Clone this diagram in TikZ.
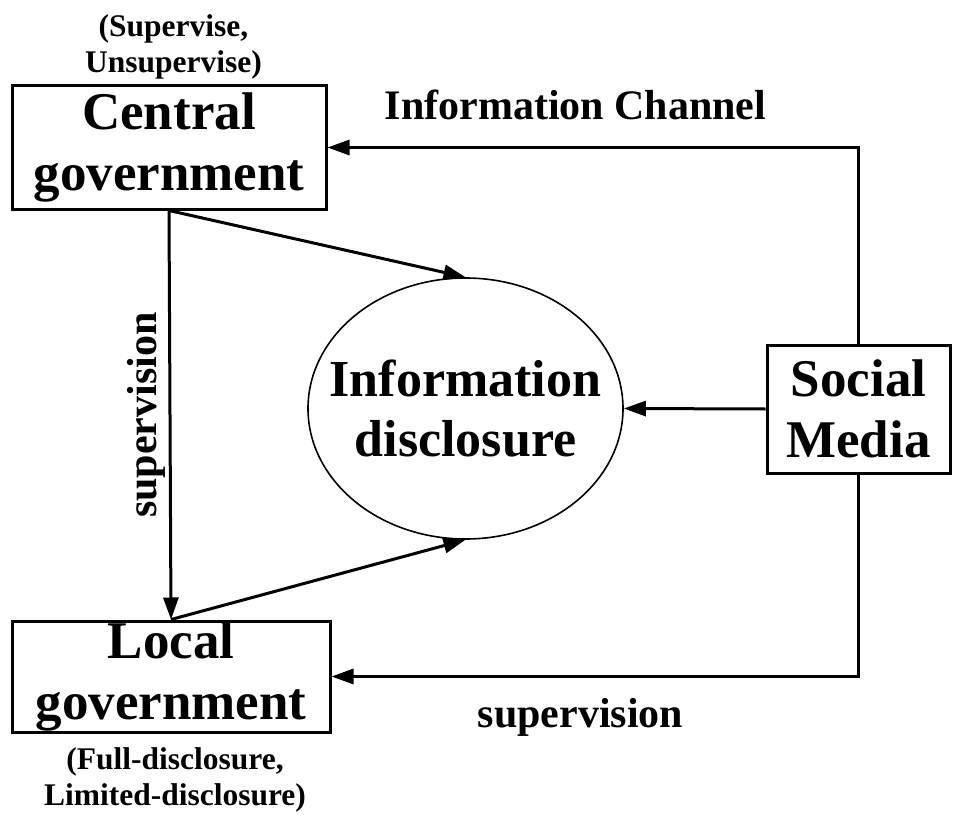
\documentclass[tikz,border=0pt]{standalone}
\usepackage{fontspec}
\setmainfont{Liberation Serif}
\usetikzlibrary{arrows.meta,shapes.geometric}
\tikzset{
  box/.style={draw, line width=3pt, rectangle, inner sep=0pt, align=center,
              font=\bfseries\fontsize{53}{61}\selectfont},
  bubble/.style={draw, line width=1.6pt, ellipse, inner xsep=-25pt, inner ysep=0pt, align=center,
              minimum width=315pt, minimum height=261pt,
              font=\bfseries\fontsize{52}{60}\selectfont},
  conn/.style={line width=3pt, -{Triangle[length=22pt,width=15pt]}},
  smalltxt/.style={align=center, inner sep=0pt, anchor=base,
              font=\bfseries\fontsize{31.5}{36}\selectfont},
  lbl/.style={inner sep=0pt, anchor=base, font=\bfseries\fontsize{42}{48}\selectfont}
}
\begin{document}
\begin{tikzpicture}[x=1pt,y=-1pt]
\useasboundingbox (0,0) rectangle (967,816);
\node[box, minimum width=314pt, minimum height=123pt] (central) at (169,147.5) {Central\\government};
\node[box, minimum width=318pt, minimum height=111pt] (local) at (171,676.5) {Local\\government};
\node[box, minimum width=183pt, minimum height=128pt] (social) at (858.5,409) {Social\\Media};
\node[bubble] (info) at (465.5,408.5) {Information\\disclosure};

\node[smalltxt] (cap1) at (173.5,73) {(Supervise,\\Unsupervise)};
\node[smalltxt] (cap2) at (175,805) {(Full-disclosure,\\Limited-disclosure)};
\node[lbl] (ch) at (575.5,120) {Information Channel};
\node[lbl] (sup1) at (580.5,727) {supervision};
\node[lbl, anchor=center, rotate=90] (sup2) at (146,415) {supervision};

\draw[conn] (social.north) |- (central.east);
\draw[conn] (social.south) |- (local.east);
\draw[conn] (social.west) -- (info.east);
\draw[conn] (central.south) -- (local.north);
\draw[conn] (central.south) -- (info.north);
\draw[conn] (local.north) -- (info.south);
\end{tikzpicture}
\end{document}
